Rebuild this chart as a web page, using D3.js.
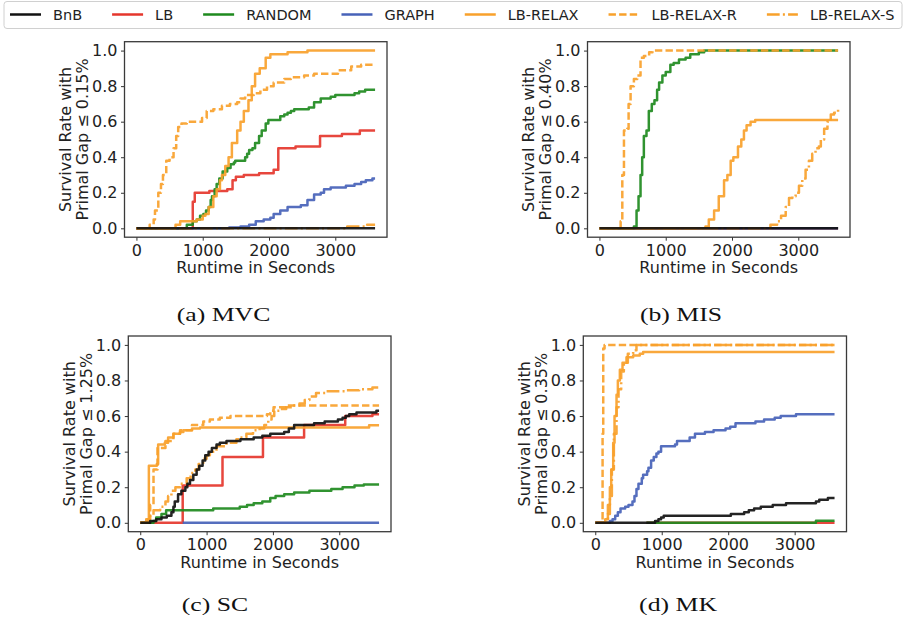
<!DOCTYPE html>
<html><head><meta charset="utf-8">
<script src="https://cdn.jsdelivr.net/npm/d3@7"></script>
<style>body{margin:0;background:#fff} svg{display:block}</style>
</head><body>
<svg id="c" width="906" height="623"></svg>
<script>
// ---------- DATA ----------
const seriesNames = ["BnB","LB","RANDOM","GRAPH","LB-RELAX","LB-RELAX-R","LB-RELAX-S"];
const xTicks = [0,1000,2000,3000];
const yTicks = [0,0.2,0.4,0.6,0.8,1.0];
const thresholds = ["0.15%","0.40%","1.25%","0.35%"];
const captions = ["(a) MVC","(b) MIS","(c) SC","(d) MK"];

// (a) MVC  [time, survival rate]
const mvcBnB = [[0,0],[3600,0]];
const mvcLB = [[0,0],[830,0],[850,0.15],[880,0.2],[1090,0.2],[1100,0.21],[1370,0.22],[1450,0.27],[1500,0.29],[1620,0.3],[1850,0.31],[2070,0.33],[2140,0.45],[2400,0.46],[2770,0.52],[3100,0.53],[3370,0.55],[3600,0.55]];
const mvcRandom = [[0,0],[730,0],[760,0.02],[850,0.04],[910,0.05],[960,0.07],[1010,0.08],[1050,0.1],[1090,0.12],[1120,0.16],[1140,0.18],[1180,0.22],[1210,0.25],[1250,0.28],[1300,0.32],[1370,0.34],[1420,0.36],[1470,0.37],[1490,0.38],[1620,0.38],[1640,0.4],[1670,0.42],[1700,0.44],[1750,0.45],[1790,0.48],[1850,0.52],[1890,0.55],[1950,0.59],[1990,0.61],[2120,0.61],[2170,0.63],[2230,0.64],[2280,0.65],[2330,0.66],[2380,0.67],[2580,0.67],[2600,0.68],[2680,0.71],[2780,0.73],[2930,0.74],[3000,0.75],[3240,0.75],[3290,0.76],[3360,0.77],[3450,0.78],[3600,0.78]];
const mvcGraph = [[0,0],[1290,0],[1400,0.005],[1570,0.01],[1700,0.02],[1800,0.04],[1920,0.05],[2020,0.06],[2070,0.08],[2170,0.1],[2280,0.12],[2480,0.13],[2580,0.16],[2680,0.19],[2780,0.2],[2830,0.22],[2930,0.23],[3160,0.24],[3290,0.25],[3390,0.26],[3460,0.27],[3560,0.28],[3600,0.28]];
const mvcRelax = [[0,0],[560,0],[590,0.02],[660,0.04],[860,0.04],[910,0.05],[1000,0.07],[1040,0.08],[1090,0.12],[1160,0.18],[1210,0.22],[1260,0.27],[1290,0.3],[1340,0.35],[1390,0.4],[1440,0.48],[1520,0.55],[1570,0.6],[1620,0.66],[1690,0.72],[1740,0.8],[1790,0.87],[1860,0.9],[1950,0.96],[2020,0.98],[2280,0.99],[2580,1.0],[3600,1.0]];
const mvcRelaxR = [[0,0],[150,0],[200,0.02],[260,0.05],[280,0.1],[330,0.2],[370,0.25],[400,0.3],[450,0.38],[500,0.4],[560,0.45],[600,0.52],[630,0.57],[680,0.59],[760,0.6],[960,0.6],[990,0.62],[1060,0.66],[1160,0.67],[1290,0.69],[1410,0.7],[1520,0.71],[1570,0.73],[1640,0.75],[1770,0.76],[1870,0.78],[1970,0.8],[2070,0.82],[2230,0.84],[2330,0.85],[2530,0.86],[2680,0.87],[2990,0.87],[3040,0.89],[3240,0.91],[3390,0.92],[3600,0.92]];
const mvcRelaxS = [[0,0],[3100,0],[3180,0.01],[3480,0.02],[3600,0.02]];

// (b) MIS
const misBnB = [[0,0],[3600,0]];
const misLB = [[0,0],[3600,0]];
const misRandom = [[0,0],[490,0],[520,0.01],[560,0.1],[590,0.18],[620,0.3],[645,0.4],[670,0.52],[710,0.55],[745,0.66],[790,0.7],[830,0.72],[870,0.78],[900,0.82],[950,0.86],[1000,0.88],[1070,0.92],[1120,0.93],[1200,0.95],[1300,0.96],[1370,0.98],[1500,0.99],[1580,1.0],[3600,1.0]];
const misGraph = [[0,0],[3600,0]];
const misRelax = [[0,0],[1570,0],[1600,0.01],[1650,0.05],[1730,0.1],[1800,0.18],[1880,0.27],[1930,0.3],[1980,0.38],[2020,0.4],[2090,0.46],[2140,0.5],[2180,0.55],[2220,0.58],[2280,0.6],[2350,0.61],[3600,0.61]];
const misRelaxR = [[0,0],[290,0],[320,0.04],[345,0.3],[370,0.55],[420,0.56],[440,0.7],[470,0.8],[520,0.84],[570,0.86],[620,0.96],[670,0.97],[750,0.99],[800,1.0],[3600,1.0]];
const misRelaxS = [[0,0],[2550,0],[2580,0.02],[2680,0.04],[2740,0.07],[2810,0.12],[2860,0.17],[2910,0.18],[2960,0.2],[3010,0.24],[3060,0.28],[3110,0.33],[3160,0.38],[3210,0.42],[3260,0.45],[3310,0.46],[3340,0.5],[3390,0.56],[3440,0.6],[3490,0.64],[3540,0.65],[3600,0.68]];

// (c) SC
const scBnB = [[0,0],[90,0],[150,0.01],[240,0.02],[320,0.03],[400,0.04],[470,0.06],[500,0.09],[520,0.12],[570,0.16],[620,0.18],[680,0.2],[710,0.22],[750,0.24],[800,0.27],[850,0.3],[890,0.32],[940,0.35],[980,0.38],[1030,0.4],[1080,0.42],[1150,0.44],[1200,0.45],[1300,0.46],[1510,0.47],[1710,0.48],[1840,0.49],[1960,0.5],[2170,0.51],[2240,0.53],[2320,0.55],[2620,0.56],[2780,0.57],[2980,0.58],[3050,0.59],[3100,0.6],[3150,0.61],[3260,0.62],[3560,0.63],[3600,0.63]];
const scLB = [[0,0],[640,0.21],[1240,0.37],[1850,0.48],[2470,0.55],[3090,0.6],[3500,0.61],[3600,0.61]];
const scRandom = [[0,0],[200,0.01],[240,0.03],[320,0.05],[390,0.07],[1100,0.08],[1500,0.09],[1610,0.1],[1710,0.11],[1840,0.12],[1960,0.14],[2040,0.15],[2170,0.16],[2320,0.17],[2550,0.18],[2880,0.19],[3050,0.2],[3230,0.21],[3370,0.215],[3600,0.215]];
const scGraph = [[640,0],[3600,0]];
const scRelax = [[0,0],[90,0.02],[130,0.32],[250,0.33],[270,0.44],[370,0.45],[420,0.48],[500,0.5],[600,0.51],[650,0.52],[780,0.53],[900,0.535],[3450,0.548],[3600,0.548]];
const scRelaxR = [[0,0],[100,0.02],[150,0.1],[200,0.3],[260,0.42],[380,0.46],[500,0.5],[600,0.52],[780,0.55],[950,0.57],[1050,0.58],[1200,0.59],[1360,0.6],[1910,0.61],[1960,0.63],[2010,0.65],[2200,0.66],[3600,0.66]];
const scRelaxS = [[0,0],[120,0.02],[150,0.04],[200,0.07],[300,0.09],[380,0.12],[420,0.15],[470,0.18],[530,0.2],[600,0.22],[700,0.25],[760,0.28],[830,0.3],[880,0.33],[950,0.36],[1000,0.38],[1050,0.4],[1150,0.43],[1300,0.45],[1450,0.47],[1500,0.48],[1600,0.5],[1700,0.52],[1800,0.53],[1870,0.55],[1930,0.58],[1980,0.6],[2020,0.63],[2100,0.64],[2200,0.65],[2300,0.66],[2400,0.67],[2480,0.69],[2550,0.71],[2650,0.73],[2800,0.74],[3100,0.745],[3300,0.75],[3500,0.76],[3600,0.765]];

// (d) MK
const mkBnB = [[0,0],[770,0],[900,0.01],[950,0.02],[990,0.03],[1030,0.04],[1990,0.04],[2040,0.05],[2240,0.06],[2310,0.07],[2390,0.08],[2490,0.09],[2670,0.1],[2870,0.11],[3320,0.12],[3370,0.13],[3500,0.14],[3600,0.14]];
const mkLB = [[770,0],[3600,0]];
const mkRandom = [[770,0],[3320,0.012],[3600,0.012]];
const mkGraph = [[0,0],[220,0.01],[260,0.02],[300,0.04],[340,0.06],[380,0.08],[450,0.09],[500,0.1],[560,0.12],[590,0.15],[620,0.19],[650,0.22],[700,0.25],[720,0.27],[780,0.29],[800,0.31],[840,0.35],[880,0.37],[920,0.39],[950,0.4],[990,0.43],[1150,0.43],[1200,0.44],[1230,0.46],[1380,0.46],[1420,0.48],[1500,0.5],[1650,0.51],[1780,0.52],[1960,0.53],[2030,0.54],[2110,0.56],[2410,0.57],[2540,0.58],[2700,0.59],[2790,0.6],[3020,0.61],[3600,0.61]];
const mkRelax = [[0,0],[120,0],[150,0.02],[190,0.1],[220,0.2],[240,0.3],[270,0.45],[290,0.6],[320,0.72],[340,0.8],[370,0.86],[410,0.9],[470,0.93],[570,0.94],[670,0.95],[720,0.96],[3600,0.96]];
const mkRelaxR = [[0,0],[100,0],[110,0.5],[120,0.98],[140,1.0],[3600,1.0]];
const mkRelaxS = [[0,0],[160,0],[190,0.05],[220,0.15],[250,0.3],[280,0.5],[320,0.65],[350,0.75],[390,0.85],[430,0.9],[490,0.95],[570,0.97],[620,1.0],[3600,1.0]];

const panelData = [
  [mvcBnB, mvcLB, mvcRandom, mvcGraph, mvcRelax, mvcRelaxR, mvcRelaxS],
  [misBnB, misLB, misRandom, misGraph, misRelax, misRelaxR, misRelaxS],
  [scBnB, scLB, scRandom, scGraph, scRelax, scRelaxR, scRelaxS],
  [mkBnB, mkLB, mkRandom, mkGraph, mkRelax, mkRelaxR, mkRelaxS]
];

// ---------- STYLE / LAYOUT ----------
const colors = ["#111111","#e5362c","#1e8a1e","#4762b8","#f8a12b","#f8a12b","#f8a12b"];
const dashes = [null,null,null,null,null,"7.4,3.2","12.8,3.2,2,3.2"];
const drawOrder = [1,2,3,4,5,6,0];
const boxes = [
  {l:124.5, r:387, t:41.7, b:237.2},
  {l:587.5, r:850, t:41.7, b:237.2},
  {l:128.3, r:391, t:336, b:531.7},
  {l:583.3, r:846.5, t:336, b:531.7}
];
const capPos = [{x:223.5,y:321},{x:681,y:321},{x:215,y:611},{x:678,y:611}];
const FONT = "DejaVu Sans, sans-serif";
const FS = 16;

const svg = d3.select("#c");
svg.append("rect").attr("width",906).attr("height",623).attr("fill","#fff");

panelData.forEach((series, pi) => {
  const bx = boxes[pi];
  const x = d3.scaleLinear().domain([-180,3780]).range([bx.l, bx.r]);
  const y = d3.scaleLinear().domain([-0.05,1.05]).range([bx.b, bx.t]);
  const g = svg.append("g");

  const clipId = "clip"+pi;
  g.append("clipPath").attr("id",clipId).append("rect")
    .attr("x",bx.l).attr("y",bx.t).attr("width",bx.r-bx.l).attr("height",bx.b-bx.t);

  const line = d3.line().x(d=>x(d[0])).y(d=>y(d[1])).curve(d3.curveStepAfter);
  const lg = g.append("g").attr("clip-path","url(#"+clipId+")");
  drawOrder.forEach(si => {
    lg.append("path").datum(series[si])
      .attr("d", line)
      .attr("fill","none")
      .attr("stroke", colors[si])
      .attr("stroke-width", 2.5)
      .attr("stroke-opacity", 0.92)
      .attr("stroke-linejoin","round")
      .attr("stroke-dasharray", dashes[si]);
  });

  // axes
  const xa = g.append("g").attr("transform",`translate(0,${bx.b})`)
    .call(d3.axisBottom(x).tickValues(xTicks).tickSize(3.5).tickPadding(3.8).tickFormat(d3.format("d")));
  const ya = g.append("g").attr("transform",`translate(${bx.l},0)`)
    .call(d3.axisLeft(y).tickValues(yTicks).tickSize(3.5).tickPadding(3.5).tickFormat(d3.format(".1f")));
  [xa,ya].forEach(a => {
    a.select(".domain").remove();
    a.selectAll("line").attr("stroke","#333").attr("stroke-width",1);
    a.selectAll("text").attr("fill","#222").style("font-family",FONT).style("font-size",FS+"px");
  });

  // frame
  g.append("rect").attr("x",bx.l).attr("y",bx.t).attr("width",bx.r-bx.l).attr("height",bx.b-bx.t)
    .attr("fill","none").attr("stroke","#3a3a3a").attr("stroke-width",1.3);

  // x label
  g.append("text").attr("x",(bx.l+bx.r)/2).attr("y",bx.b+36).attr("text-anchor","middle")
    .style("font-family",FONT).style("font-size",FS+"px").attr("fill","#222")
    .text("Runtime in Seconds");

  // y label (two lines)
  const cy = (bx.t+bx.b)/2;
  const yl = g.append("text").attr("transform",`translate(${bx.l-53.5},${cy}) rotate(-90)`)
    .attr("text-anchor","middle").style("font-family",FONT).style("font-size",FS+"px").attr("fill","#222");
  yl.append("tspan").attr("x",0).attr("y",0).text("Survival Rate with");
  yl.append("tspan").attr("x",0).attr("y",16.8).text("Primal Gap \u2264 " + thresholds[pi]);

  // caption
  svg.append("text").attr("transform",`translate(${capPos[pi].x},${capPos[pi].y}) scale(1.32,1)`)
    .attr("text-anchor","middle").style("font-family","Liberation Serif, serif").style("font-size","19.5px")
    .attr("fill","#111").text(captions[pi]);
});

// legend
const leg = svg.append("g");
leg.append("rect").attr("x",4).attr("y",1.5).attr("width",898).attr("height",27).attr("rx",3)
  .attr("fill","#fff").attr("stroke","#d0d0d0").attr("stroke-width",1);
let lx = 10;
seriesNames.forEach((name, i) => {
  leg.append("line").attr("x1",lx).attr("x2",lx+31).attr("y1",14.5).attr("y2",14.5)
    .attr("stroke",colors[i]).attr("stroke-width",2.5).attr("stroke-dasharray",dashes[i]);
  const t = leg.append("text").attr("x",lx+43).attr("y",19.5)
    .style("font-family",FONT).style("font-size","14.5px").attr("fill","#222").text(name);
  lx = lx + 43 + t.node().getComputedTextLength() + 30;
});
</script>
</body></html>
